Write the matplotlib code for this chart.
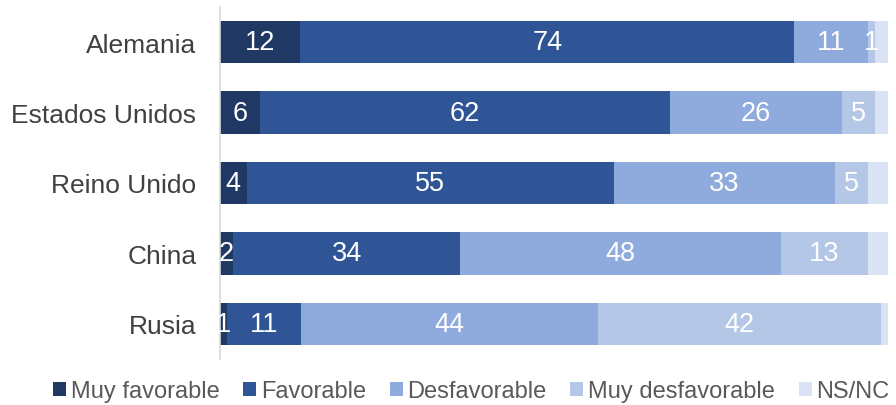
import matplotlib
matplotlib.use("Agg")
import matplotlib.pyplot as plt
import numpy as np

plt.rcParams['font.family'] = ['Liberation Sans', 'DejaVu Sans']

countries = ["Alemania", "Estados Unidos", "Reino Unido", "China", "Rusia"]
series_names = ["Muy favorable", "Favorable", "Desfavorable", "Muy desfavorable", "NS/NC"]
muy_favorable = [12, 6, 4, 2, 1]
favorable = [74, 62, 55, 34, 11]
desfavorable = [11, 26, 33, 48, 44]
muy_desfavorable = [1, 5, 5, 13, 42]
ns_nc = [2, 2, 3, 3, 1]

colors = ["#203864", "#2F5597", "#8FAADC", "#B4C7E7", "#DAE3F3"]
show_labels = [True, True, True, True, False]

data = np.array([muy_favorable, favorable, desfavorable, muy_desfavorable, ns_nc], dtype=float)
totals = data.sum(axis=0)
shares = data / totals * 100

fig = plt.figure(figsize=(8.96, 4.06), dpi=100)
ax = fig.add_axes([220/896, 1 - 360/406, (888-220)/896, (360-8)/406])

y = np.arange(len(countries))
left = np.zeros(len(countries))
handles = []
for i, name in enumerate(series_names):
    bars = ax.barh(y, shares[i], left=left, height=0.6, color=colors[i], label=name,
                   edgecolor='none')
    handles.append(bars)
    if show_labels[i]:
        for j in range(len(countries)):
            cx = left[j] + shares[i][j] / 2
            ax.text(cx, y[j], f"{int(data[i][j])}", ha='center', va='center',
                    color='white', fontsize=19.5)
    left += shares[i]

ax.set_xlim(0, 100)
ax.set_ylim(len(countries) - 0.5, -0.5)
ax.set_yticks(y)
ax.set_yticklabels(countries, fontsize=19, color='#404040')
ax.tick_params(axis='y', length=0, pad=17)
ax.set_xticks([])
for s in ['top', 'right', 'bottom']:
    ax.spines[s].set_visible(False)
ax.spines['left'].set_color('#D9D9D9')
ax.spines['left'].set_linewidth(1.2)

leg = fig.legend(handles, series_names, loc='center', bbox_to_anchor=(0.526, 1 - 392/406),
                 ncol=5, frameon=False, fontsize=17, handlelength=0.55, handleheight=0.55,
                 handletextpad=0.2, columnspacing=1.0, borderaxespad=0, borderpad=0)
for t in leg.get_texts():
    t.set_color('#595959')

fig.savefig("out.png", dpi=100)
